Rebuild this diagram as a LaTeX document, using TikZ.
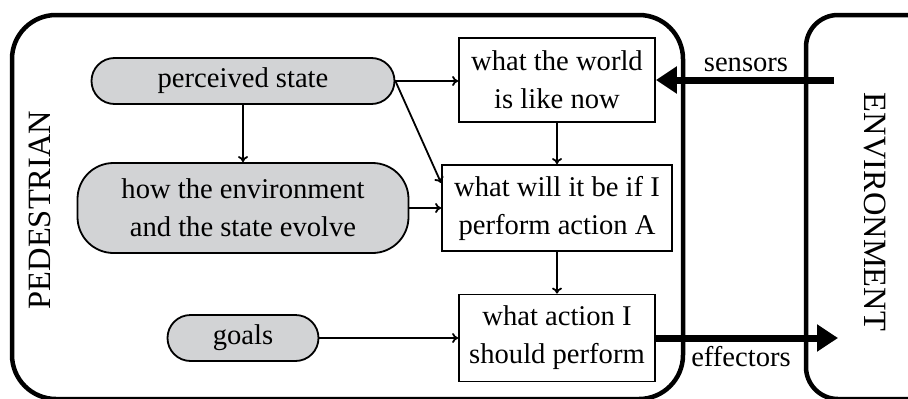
\documentclass[tikz,border=0pt]{standalone}
\usepackage{fontspec}
\setmainfont{Liberation Serif}
\usetikzlibrary{arrows.meta}
\definecolor{statefill}{RGB}{210,211,213}
\tikzset{
  x=1pt, y=-1pt,
  every node/.style={font=\fontsize{28.6}{38}\selectfont, align=center, inner sep=0pt},
  sidelabel/.style={font=\fontsize{32.5}{38}\selectfont},
  agentframe/.style={line width=4.5pt, rounded corners=44pt},
  statebox/.style={draw, line width=1.8pt, fill=statefill},
  procbox/.style={draw, line width=1.8pt, fill=white},
  flow/.style={line width=1.8pt, -{To[length=6pt,width=10pt]}},
  bigflow/.style={line width=7pt, -{Triangle[length=21pt,width=26pt]}},
}
\begin{document}
\begin{tikzpicture}
\useasboundingbox (0,0) rectangle (908,399);
\begin{scope}
\clip (0,0) rectangle (908,399);
% agent and environment frames
\draw[agentframe] (12,15) rectangle (683,399);
\draw[agentframe, rounded corners=32pt] (806,15) rectangle (960,399);
\end{scope}
\node[sidelabel, rotate=90] (ped) at (40,210) {PEDESTRIAN};
\node[sidelabel, rotate=-90] (env) at (875,212) {ENVIRONMENT};

% internal state
\node[statebox, minimum width=303pt, minimum height=46pt, rounded corners=23pt] (perc) at (243,81) {perceived state};
\node[statebox, minimum width=331pt, minimum height=90pt, rounded corners=36pt] (evol) at (243,208) {how the environment\\and the state evolve};
\node[statebox, minimum width=151pt, minimum height=46pt, rounded corners=23pt] (goals) at (243,338) {goals};

% reasoning steps
\node[procbox, minimum width=196pt, minimum height=84pt] (world) at (557,80) {what the world\\is like now};
\node[procbox, minimum width=230pt, minimum height=86pt] (will) at (557,208) {what will it be if I\\perform action A};
\node[procbox, minimum width=196pt, minimum height=87pt] (act) at (557,338) {what action I\\should perform};

% free ends of the sensor and effector arrows
\coordinate (sensin) at (834,80);
\coordinate (effout) at (838,338);

% internal flows
\draw[flow] (perc.east) -- (world.west |- perc.east);
\draw[flow] (perc.east) -- (will.west |- 0,183);
\draw[flow] (perc.south) -- (evol.north);
\draw[flow] (evol.east) -- (will.west);
\draw[flow] (world.south) -- (will.north);
\draw[flow] (will.south) -- (act.north);
\draw[flow] (goals.east) -- (act.west);

% sensors and effectors
\draw[bigflow] (sensin) -- (world.east |- sensin);
\node[anchor=base] (sens) at (746,71) {sensors};
\draw[bigflow] (act.east |- effout) -- (effout);
\node[anchor=base] (eff) at (741,366) {effectors};
\end{tikzpicture}
\end{document}
